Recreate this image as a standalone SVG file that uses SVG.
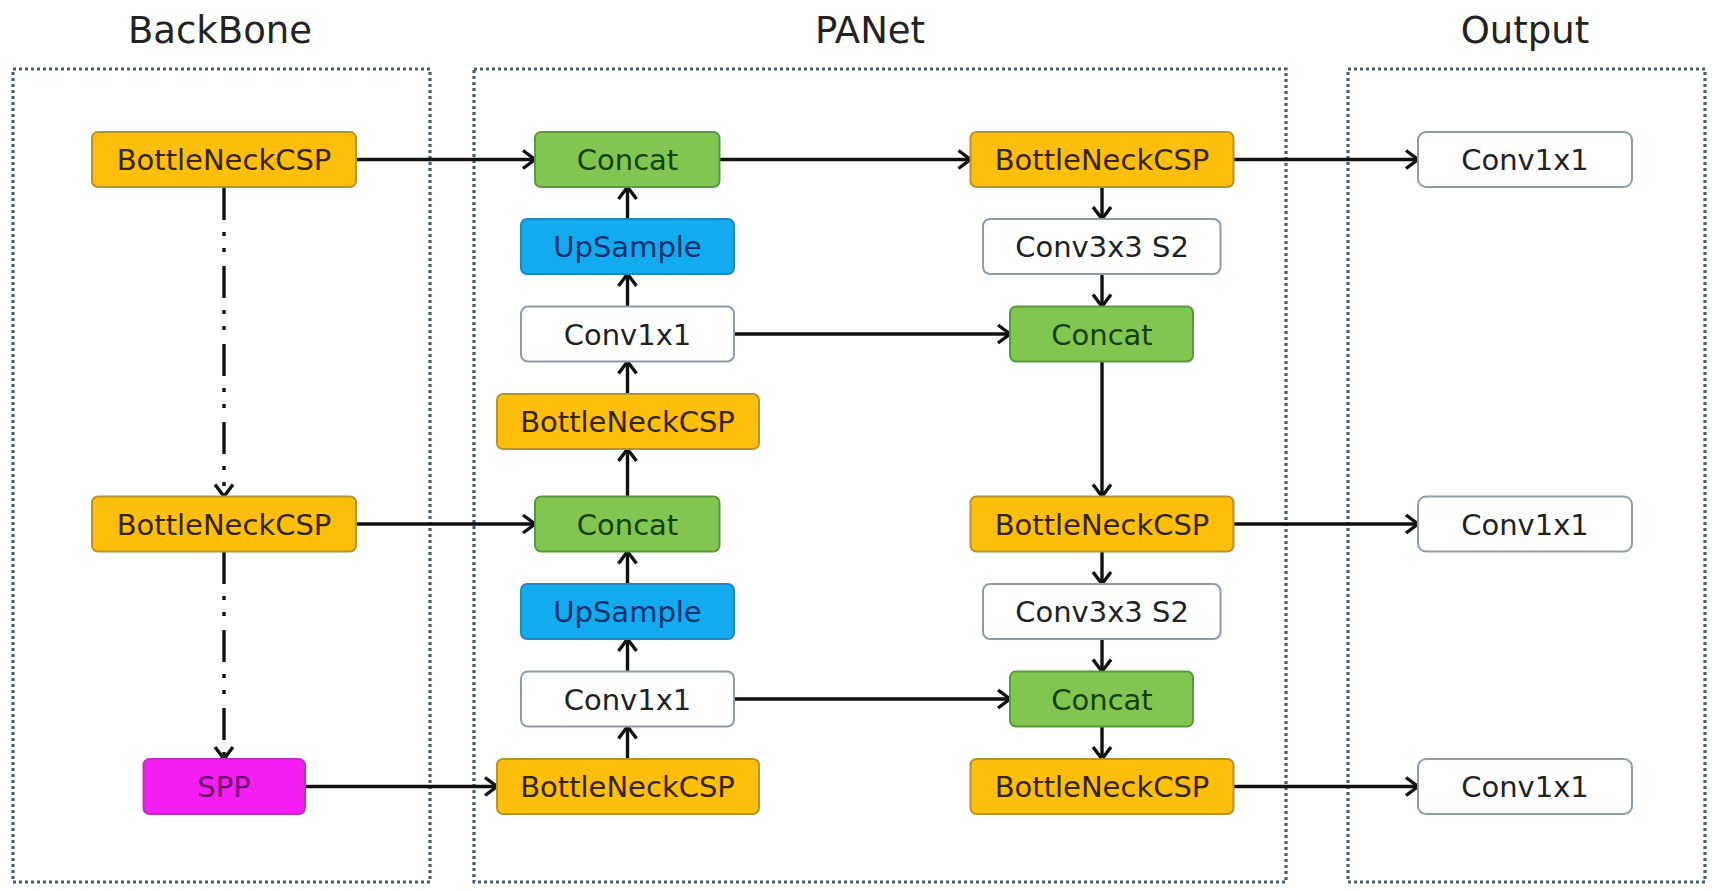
<svg xmlns="http://www.w3.org/2000/svg" width="1712" height="891" viewBox="0 0 1712 891">
<style>
  .title{font-family:"DejaVu Sans","Liberation Sans",sans-serif;font-size:37px;fill:#222;text-anchor:middle}
  .lbl{font-family:"DejaVu Sans","Liberation Sans",sans-serif;font-size:29px;text-anchor:middle}
  .frame{fill:none;stroke:#4a5d70;stroke-width:3.2;stroke-dasharray:3 3}
  .orange rect{fill:#fdbf0c;stroke:#b8922c;stroke-width:2}
  .orange text{fill:#352400}
  .green rect{fill:#80c650;stroke:#5a9a3c;stroke-width:2}
  .green text{fill:#17400a}
  .blue rect{fill:#12acee;stroke:#1f86c2;stroke-width:2}
  .blue text{fill:#0b2f6e}
  .mag rect{fill:#f51ff5;stroke:#c030c0;stroke-width:2}
  .mag text{fill:#6a0070}
  .white rect{fill:#fff;stroke:#8d9bab;stroke-width:2}
  .white text{fill:#222}
  .conn line{stroke:#111;stroke-width:3.4;marker-end:url(#arr)}
  .conn line.dd{stroke-dasharray:32 12 4 12 4 14}
</style>
<defs>
  <marker id="arr" markerUnits="userSpaceOnUse" markerWidth="20" markerHeight="24" refX="15" refY="11" orient="auto">
    <path d="M3,2 L15,11 L3,20" fill="none" stroke="#111" stroke-width="3.4"/>
  </marker>
</defs>
<rect width="1712" height="891" fill="#fff"/>
<g id="titles">
  <text class="title" x="220" y="43">BackBone</text>
  <text class="title" x="870" y="43">PANet</text>
  <text class="title" x="1525" y="43">Output</text>
</g>
<g id="frames">
  <rect class="frame" x="13" y="69" width="417" height="813"/>
  <rect class="frame" x="474" y="69" width="812" height="813"/>
  <rect class="frame" x="1348" y="69" width="357" height="813"/>
</g>
<g id="connectors" class="conn">
  <line x1="356" y1="159.5" x2="535" y2="159.5"/>
  <line x1="719.5" y1="159.5" x2="970.5" y2="159.5"/>
  <line x1="1233.5" y1="159.5" x2="1418" y2="159.5"/>
  <line x1="734" y1="334" x2="1010" y2="334"/>
  <line x1="356" y1="524" x2="535" y2="524"/>
  <line x1="1233.5" y1="524" x2="1418" y2="524"/>
  <line x1="734" y1="699" x2="1010" y2="699"/>
  <line x1="305" y1="786.5" x2="497" y2="786.5"/>
  <line x1="1233.5" y1="786.5" x2="1418" y2="786.5"/>
  <line x1="627.5" y1="219" x2="627.5" y2="187"/>
  <line x1="627.5" y1="306.5" x2="627.5" y2="274"/>
  <line x1="627.5" y1="394" x2="627.5" y2="361.5"/>
  <line x1="627.5" y1="496.5" x2="627.5" y2="449"/>
  <line x1="627.5" y1="584" x2="627.5" y2="551.5"/>
  <line x1="627.5" y1="671.5" x2="627.5" y2="639"/>
  <line x1="627.5" y1="759" x2="627.5" y2="726.5"/>
  <line x1="1102" y1="187" x2="1102" y2="219"/>
  <line x1="1102" y1="274" x2="1102" y2="306.5"/>
  <line x1="1102" y1="361.5" x2="1102" y2="496.5"/>
  <line x1="1102" y1="551.5" x2="1102" y2="584"/>
  <line x1="1102" y1="639" x2="1102" y2="671.5"/>
  <line x1="1102" y1="726.5" x2="1102" y2="759"/>
  <line class="dd" x1="224" y1="188" x2="224" y2="496.5"/>
  <line class="dd" x1="224" y1="552" x2="224" y2="759"/>
</g>
<g id="bb1" class="orange"><rect x="92" y="132" width="264" height="55" rx="6"/><text class="lbl" x="224" y="170">BottleNeckCSP</text></g>
<g id="bb2" class="orange"><rect x="92" y="496.5" width="264" height="55" rx="6"/><text class="lbl" x="224" y="534.5">BottleNeckCSP</text></g>
<g id="spp" class="mag"><rect x="143.5" y="759" width="161.5" height="55" rx="6"/><text class="lbl" x="224" y="797">SPP</text></g>
<g id="concatL1" class="green"><rect x="535" y="132" width="184.5" height="55" rx="6"/><text class="lbl" x="627.5" y="170">Concat</text></g>
<g id="upL1" class="blue"><rect x="521" y="219" width="213" height="55" rx="6"/><text class="lbl" x="627.5" y="257">UpSample</text></g>
<g id="convL1" class="white"><rect x="521" y="306.5" width="213" height="55" rx="7"/><text class="lbl" x="627.5" y="344.5">Conv1x1</text></g>
<g id="bnL1" class="orange"><rect x="497" y="394" width="262" height="55" rx="6"/><text class="lbl" x="627.5" y="432">BottleNeckCSP</text></g>
<g id="concatL2" class="green"><rect x="535" y="496.5" width="184.5" height="55" rx="6"/><text class="lbl" x="627.5" y="534.5">Concat</text></g>
<g id="upL2" class="blue"><rect x="521" y="584" width="213" height="55" rx="6"/><text class="lbl" x="627.5" y="622">UpSample</text></g>
<g id="convL2" class="white"><rect x="521" y="671.5" width="213" height="55" rx="7"/><text class="lbl" x="627.5" y="709.5">Conv1x1</text></g>
<g id="bnL2" class="orange"><rect x="497" y="759" width="262" height="55" rx="6"/><text class="lbl" x="627.5" y="797">BottleNeckCSP</text></g>
<g id="bnR1" class="orange"><rect x="970.5" y="132" width="263" height="55" rx="6"/><text class="lbl" x="1102" y="170">BottleNeckCSP</text></g>
<g id="convR1" class="white"><rect x="983" y="219" width="237.5" height="55" rx="7"/><text class="lbl" x="1102" y="257">Conv3x3 S2</text></g>
<g id="concatR1" class="green"><rect x="1010" y="306.5" width="183" height="55" rx="6"/><text class="lbl" x="1102" y="344.5">Concat</text></g>
<g id="bnR2" class="orange"><rect x="970.5" y="496.5" width="263" height="55" rx="6"/><text class="lbl" x="1102" y="534.5">BottleNeckCSP</text></g>
<g id="convR2" class="white"><rect x="983" y="584" width="237.5" height="55" rx="7"/><text class="lbl" x="1102" y="622">Conv3x3 S2</text></g>
<g id="concatR2" class="green"><rect x="1010" y="671.5" width="183" height="55" rx="6"/><text class="lbl" x="1102" y="709.5">Concat</text></g>
<g id="bnR3" class="orange"><rect x="970.5" y="759" width="263" height="55" rx="6"/><text class="lbl" x="1102" y="797">BottleNeckCSP</text></g>
<g id="out1" class="white"><rect x="1418" y="132" width="214" height="55" rx="8"/><text class="lbl" x="1525" y="170">Conv1x1</text></g>
<g id="out2" class="white"><rect x="1418" y="496.5" width="214" height="55" rx="8"/><text class="lbl" x="1525" y="534.5">Conv1x1</text></g>
<g id="out3" class="white"><rect x="1418" y="759" width="214" height="55" rx="8"/><text class="lbl" x="1525" y="797">Conv1x1</text></g>
</svg>
